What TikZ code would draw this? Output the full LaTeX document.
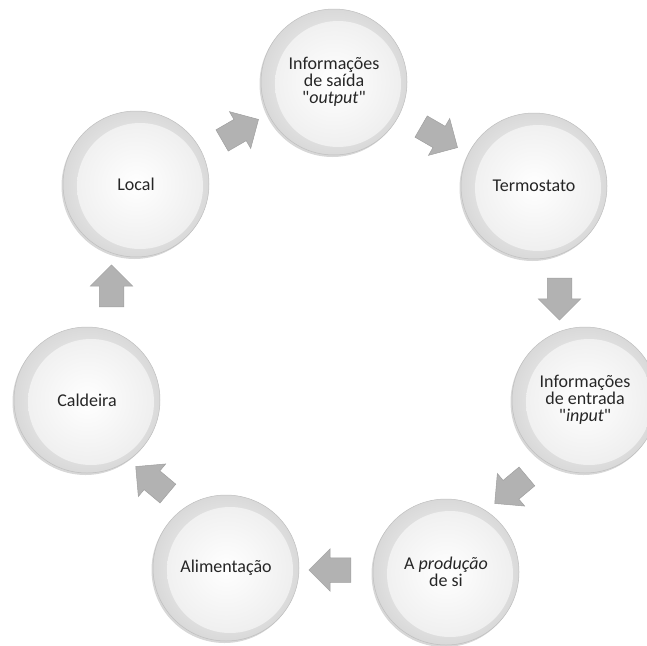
\documentclass[tikz,border=0pt]{standalone}
\usepackage{fontspec}
\setmainfont{Carlito}
\usetikzlibrary{calc, shadows, shapes.arrows}

\begin{document}
\begin{tikzpicture}[x=1pt, y=-1pt,
  bubble/.style={circle, minimum size=146pt, inner sep=0pt, align=center, text=black!85,
    font=\fontsize{18}{17}\selectfont,
    draw=gray!50, line width=0.5pt,
    inner color=white, outer color=gray!30,
    drop shadow={shadow xshift=-1.5pt, shadow yshift=-2pt, opacity=0.35, fill=gray!90},
    path picture={\shade[inner color=white, outer color=gray!14]
      ($(path picture bounding box.center)+(4,2)$) circle[radius=63pt];}},
  flow/.style={single arrow, minimum height=42pt, inner sep=12pt, single arrow head extend=9pt,
    fill=gray!60, draw=gray!75, line width=0.5pt}
]
% Fix the page size
\useasboundingbox (0,0) rectangle (647,645);

% Draw the cycle stages
\node[bubble] (saida) at (334,82) {Informações\\de saída\\\textquotedbl\textit{output}\textquotedbl};
\node[bubble] (termo) at (534,186) {Termostato};
\node[bubble] (entrada) at (585,400) {Informações\\de entrada\\\textquotedbl\textit{input}\textquotedbl};
\node[bubble] (producao) at (446,572) {A \textit{produção}\\de si};
\node[bubble] (alim) at (226,568) {Alimentação};
\node[bubble] (caldeira) at (87,400) {Caldeira};
\node[bubble] (local) at (136,184) {Local};

% Draw block arrows halfway between stages
\node[flow, rotate=30] (f1) at ($(local)!0.5!(saida)$) {};
\node[flow, rotate=-30] (f2) at ($(saida)!0.5!(termo)$) {};
\node[flow, rotate=-90] (f3) at ($(termo)!0.5!(entrada)$) {};
\node[flow, rotate=-140] (f4) at ($(entrada)!0.5!(producao)$) {};
\node[flow, rotate=180] (f5) at ($(producao)!0.5!(alim)$) {};
\node[flow, rotate=140] (f6) at ($(alim)!0.5!(caldeira)$) {};
\node[flow, rotate=90] (f7) at ($(caldeira)!0.5!(local)$) {};
\end{tikzpicture}
\end{document}
